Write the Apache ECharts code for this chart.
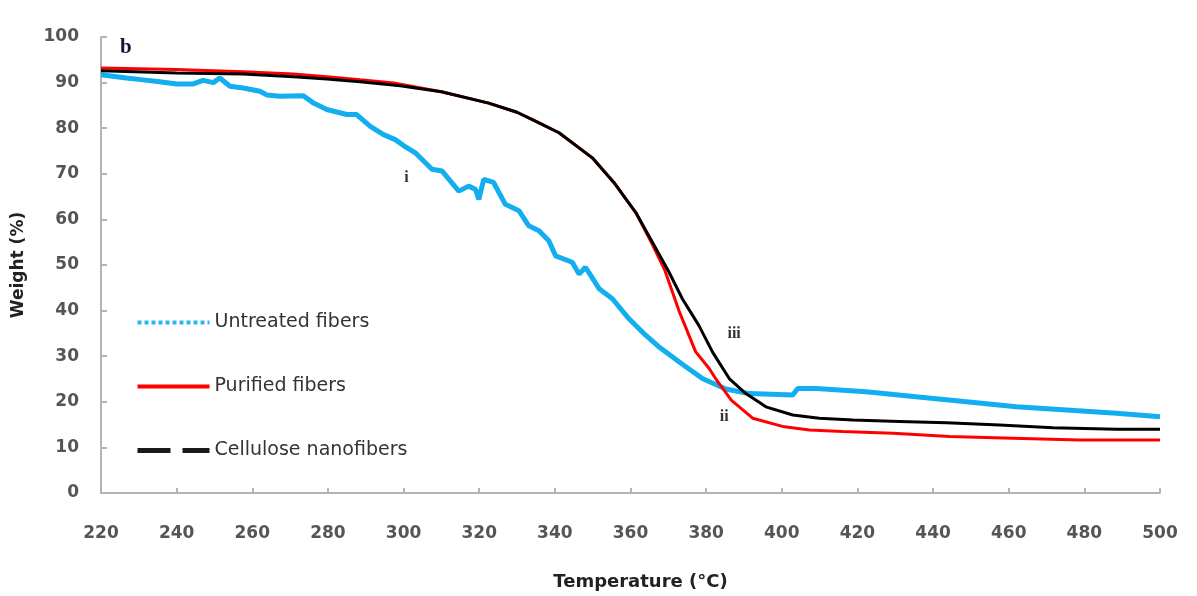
<!DOCTYPE html>
<html>
<head>
<meta charset="utf-8">
<script src="https://cdn.jsdelivr.net/npm/echarts@6/dist/echarts.min.js"></script>
<style>
html,body{margin:0;padding:0;background:#fff;}
#chart{width:1197px;height:596px;}
</style>
</head>
<body>
<div id="chart"></div>
<script>
// ---- Data ----
const seriesNames = ['Untreated fibers', 'Purified fibers', 'Cellulose nanofibers'];

const untreatedTemp = [220,226.7,231.1,235.5,240,244.4,247,249.7,251.4,254.1,257.6,262,263.8,267.3,273.5,276.2,279.7,285,287.6,291.2,294.7,297.8,300,303.1,307.5,310.2,314.6,317.2,319,319.9,321.2,323.8,326.9,330.5,333.1,335.8,338.4,340.2,344.6,346.4,348.1,351.7,355.2,359.6,364,367.3,372.8,379,385.2,391.4,402.9,404.2,409.1,422.3,435.5,448.8,462,475.3,488.5,500];
const untreatedWeight = [91.7,91.0,90.6,90.2,89.7,89.7,90.5,90.0,91.0,89.2,88.8,88.1,87.3,87.0,87.1,85.5,84.1,83.0,83.0,80.4,78.6,77.5,76.2,74.6,71.0,70.6,66.2,67.3,66.6,64.4,68.8,68.1,63.3,61.9,58.6,57.5,55.3,52.0,50.6,48.0,49.5,44.8,42.6,38.2,34.6,32.2,28.8,25.1,22.8,21.8,21.5,22.9,22.9,22.2,21.1,20.0,18.9,18.2,17.5,16.7];

const purifiedTemp = [220,240,257.6,270.9,279.7,288.5,297.4,310,322.5,330,335,341.1,349.9,355.6,361.4,365.8,369,372.8,377.2,380.8,382.5,386.7,392.3,400.2,407.3,416.1,429.4,444.4,461.1,478.8,500];
const purifiedWeight = [93.2,92.9,92.4,91.9,91.3,90.6,89.9,88,85.5,83.5,81.5,79.0,73.5,68.1,61.5,54.5,49.0,40.0,31.0,27.3,25.1,20.3,16.4,14.6,13.8,13.5,13.1,12.4,12.0,11.6,11.6];

const celluloseTemp = [220,240,257.6,270.9,279.7,288.5,299.1,310,322.5,330,335,341.1,349.9,355.6,361.4,365.8,370.2,373.7,378.1,381.7,386.1,390.5,395.8,402.9,409.9,418.8,431.1,443.5,457.6,471.7,488.5,500];
const celluloseWeight = [92.6,92.1,91.9,91.3,90.8,90.2,89.3,88,85.5,83.5,81.5,79.0,73.5,68.1,61.5,55.0,48.4,42.6,36.7,30.9,25.1,21.8,18.9,17.1,16.4,16.0,15.7,15.4,14.9,14.3,14.0,14.0];

const xTicks = {min:220, max:500, interval:20};
const yTicks = {min:0, max:100, interval:10};

// annotations: [text, temperature, weight]
const annotations = [['i',300.8,69.2],['iii',387.4,34.9],['ii',384.8,16.8]];
const panelLabel = ['b',226.6,97.6];

function pairs(xs, ys){ return xs.map((x,i)=>[x, ys[i]]); }

const chart = echarts.init(document.getElementById('chart'), null, {renderer:'canvas'});
const tickFont = {fontFamily:'DejaVu Sans', fontWeight:'bold', fontSize:17, color:'#555'};
const axisLineStyle = {color:'#b4b4b4', width:2};
const hiddenSymbol = {opacity:0};

const option = {
  animation:false,
  backgroundColor:'#fff',
  grid:{left:101, right:37, top:37, bottom:101, containLabel:false},
  xAxis:{
    type:'value', min:xTicks.min, max:xTicks.max, interval:xTicks.interval,
    name:'Temperature (°C)', nameLocation:'middle', nameGap:80,
    nameTextStyle:{fontFamily:'DejaVu Sans', fontWeight:'bold', fontSize:18, color:'#222', padding:[0,0,0,20]},
    axisLine:{show:true, lineStyle:axisLineStyle},
    axisTick:{show:true, inside:true, length:5, lineStyle:axisLineStyle},
    axisLabel:Object.assign({margin:32}, tickFont),
    splitLine:{show:false}
  },
  yAxis:{
    type:'value', min:yTicks.min, max:yTicks.max, interval:yTicks.interval,
    name:'Weight (%)', nameLocation:'middle', nameGap:74, nameRotate:90,
    nameTextStyle:{fontFamily:'DejaVu Sans', fontWeight:'bold', fontSize:17, color:'#222'},
    axisLine:{show:true, lineStyle:axisLineStyle},
    axisTick:{show:true, inside:true, length:6, lineStyle:axisLineStyle},
    axisLabel:Object.assign({margin:22}, tickFont),
    splitLine:{show:false}
  },
  legend:{
    show:true, padding:0,
    orient:'vertical', left:135, top:313, itemGap:45, itemWidth:72, itemHeight:19,
    textStyle:{fontFamily:'DejaVu Sans', fontSize:19, color:'#333'},
    data:[
      {name:seriesNames[0], itemStyle:hiddenSymbol, lineStyle:{type:[4,3], width:4, color:'#2ab8f0'}},
      {name:seriesNames[1], itemStyle:hiddenSymbol, lineStyle:{type:'solid', width:4, color:'#ff0000'}},
      {name:seriesNames[2], itemStyle:hiddenSymbol, lineStyle:{type:[33,12], width:5, color:'#1a1a1a'}}
    ]
  },
  series:[
    {name:seriesNames[0], type:'line', data:pairs(untreatedTemp, untreatedWeight), symbol:'none',
     lineStyle:{color:'#12aef0', width:5}, itemStyle:{color:'#12aef0'}, z:2},
    {name:seriesNames[1], type:'line', data:pairs(purifiedTemp, purifiedWeight), symbol:'none',
     lineStyle:{color:'#ff0000', width:3}, itemStyle:{color:'#ff0000'}, z:3},
    {name:seriesNames[2], type:'line', data:pairs(celluloseTemp, celluloseWeight), symbol:'none',
     lineStyle:{color:'#000000', width:3}, itemStyle:{color:'#000000'}, z:4}
  ]
};
chart.setOption(option);

// place annotation texts through the chart's scales
const graphics = annotations.map(a => {
  const p = chart.convertToPixel({gridIndex:0}, [a[1], a[2]]);
  return {type:'text', x:p[0], y:p[1], z:10,
    style:{text:a[0], font:'bold 16px "Liberation Serif", serif', fill:'#333', textAlign:'center', textVerticalAlign:'middle'}};
});
const pb = chart.convertToPixel({gridIndex:0}, [panelLabel[1], panelLabel[2]]);
graphics.push({type:'text', x:pb[0], y:pb[1], z:10,
  style:{text:panelLabel[0], font:'bold 21px "Liberation Serif", serif', fill:'#15153a', textAlign:'center', textVerticalAlign:'middle'}});
chart.setOption({graphic:graphics});
</script>
</body>
</html>
